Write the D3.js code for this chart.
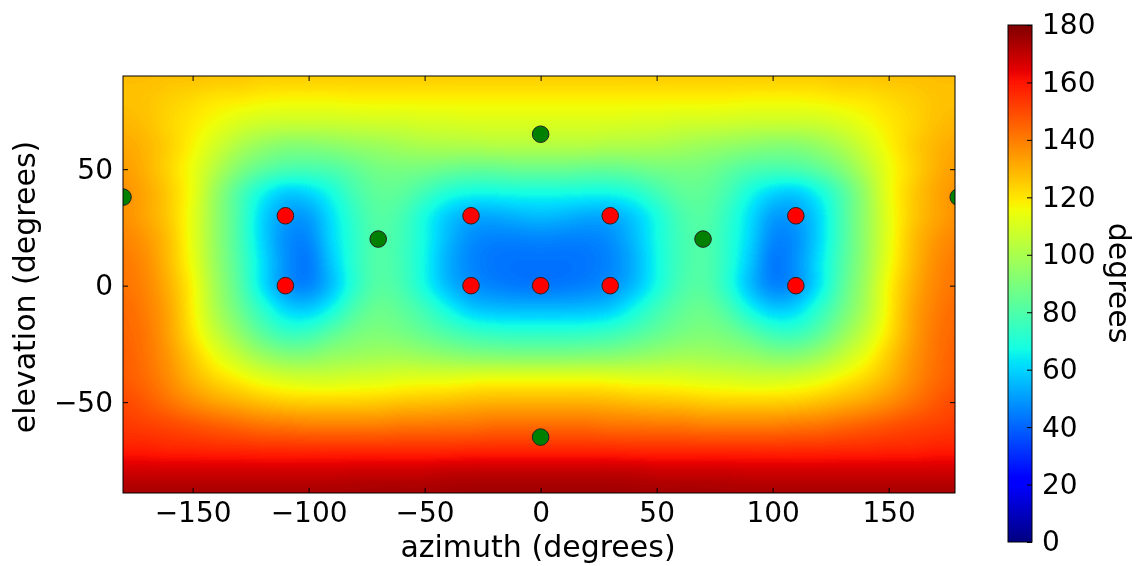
<!DOCTYPE html>
<html>
<head>
<meta charset="utf-8">
<script src="https://cdn.jsdelivr.net/npm/d3@7"></script>
<style>
body { margin: 0; background: #fff; }
#chart { position: relative; width: 1138px; height: 566px; }
#chart canvas, #chart svg { position: absolute; left: 0; top: 0; }
text { font-family: "DejaVu Sans", sans-serif; fill: #000; }
</style>
</head>
<body>
<div id="chart"></div>
<script>
'use strict';

// Grid positions of the field (degrees)
const gridAz = [-180,-170,-160,-150,-140,-130,-120,-110,-100,-90,-80,-70,-60,-50,-40,-30,-20,-10,
	0,10,20,30,40,50,60,70,80,90,100,110,120,130,140,150,160,170,180];
const gridEl = [90,80,70,60,50,40,30,20,10,0,-10,-20,-30,-40,-50,-60,-70,-80,-90];

// Field values, one row per elevation (top to bottom), in degrees
const fieldRows = [
	[128,128,127,127,126,126,125,125,125,125,125,125,125,125,125,125,125,125,125,125,125,125,125,125,125,125,125,125,125,125,125,126,126,127,127,128,128],
	[127,126,124,122,120,119,118,117,117,117,118,118,118,118,118,118,118,118,118,118,118,118,118,118,118,118,118,117,117,117,118,119,120,122,124,126,127],
	[129,127,123,119,115,111,108,107,107,107,108,109,109,110,110,111,111,111,111,111,111,111,110,110,109,109,108,107,107,107,108,111,115,119,123,127,129],
	[132,129,124,117,109,101,95,92,92,93,95,97,99,100,101,101,102,102,102,102,102,101,101,100,99,97,95,93,92,92,95,101,109,117,124,129,132],
	[134,130,123,114,102,91,83,79,78,80,84,88,89,88,86,85,85,86,86,86,85,85,86,88,89,88,84,80,78,79,83,91,102,114,123,130,134],
	[136,132,125,114,96,80,66,58,60,68,78,84,83,77,70,67,67,68,68,68,67,67,70,77,83,84,78,68,60,58,66,80,96,114,125,132,136],
	[136,132,125,113,95,78,60,50,50,62,74,82,78,68,58,52,52,54,56,54,52,52,58,68,78,82,74,62,50,50,60,78,95,113,125,132,136],
	[139,135,127,113,95,78,60,47,46,61,73,81,77,67,55,47,45,45,46,45,45,47,55,67,77,81,73,61,46,47,60,78,95,113,127,135,139],
	[141,137,128,114,96,80,62,48,43,58,73,81,77,66,53,46,43,42,42,42,43,46,53,66,77,81,73,58,43,48,62,80,96,114,128,137,141],
	[142,138,130,117,98,82,62,48,45,56,72,82,78,67,55,48,45,44,43,44,45,48,55,67,78,82,72,56,45,48,62,82,98,117,130,138,142],
	[144,140,132,118,100,86,72,60,58,66,80,86,83,76,66,58,56,55,55,55,56,58,66,76,83,86,80,66,58,60,72,86,100,118,132,140,144],
	[145,141,133,120,106,94,82,74,75,82,88,90,88,84,79,75,73,72,72,72,73,75,79,84,88,90,88,82,75,74,82,94,106,120,133,141,145],
	[146,142,135,125,114,105,97,92,92,95,97,98,98,96,94,92,91,90,90,90,91,92,94,96,98,98,97,95,92,92,97,105,114,125,135,142,146],
	[147,143,137,129,123,118,113,110,109,109,110,111,112,113,113,114,115,115,115,115,115,114,113,113,112,111,110,109,109,110,113,118,123,129,137,143,147],
	[150,147,142,137,133,130,127,125,124,124,124,125,126,127,128,129,130,130,130,130,130,129,128,127,126,125,124,124,124,125,127,130,133,137,142,147,150],
	[153,152,150,148,146,144,142,141,140,140,140,140,141,141,142,142,143,143,143,143,143,142,142,141,141,140,140,140,140,141,142,144,146,148,150,152,153],
	[158,158,157,157,156,156,155,155,155,155,155,155,155,155,155,156,156,156,156,156,156,156,155,155,155,155,155,155,155,155,155,156,156,157,157,158,158],
	[168,168,168,168,168,168,168,168,168,168,169,169,169,169,170,170,170,170,170,170,170,170,170,169,169,169,169,168,168,168,168,168,168,168,168,168,168],
	[174,174,174,174,174,174,174,174,174,174,174,175,175,175,175,176,176,176,176,176,176,176,175,175,175,175,174,174,174,174,174,174,174,174,174,174,174]
];

// Loudspeaker positions
const redAz = [-110, -110, -30, -30, 0, 30, 30, 110, 110];
const redEl = [30, 0, 30, 0, 0, 30, 0, 30, 0];
const greenAz = [0, 0, -70, 70, -180, 180];
const greenEl = [65, -65, 20, 20, 38, 38];

// Tick labels
const xTicks = [-150, -100, -50, 0, 50, 100, 150];
const yTicks = [-50, 0, 50];
const cbTicks = [0, 20, 40, 60, 80, 100, 120, 140, 160, 180];

const width = 1138, height = 566;
const plot = { left: 123, top: 76, right: 955, bottom: 493 };
const cbar = { left: 1008, right: 1032, top: 25, bottom: 542 };
const tickFont = "28px";
const labelFont = "30px";

const x = d3.scaleLinear().domain([-180, 178.6]).range([plot.left, plot.right]);
const y = d3.scaleLinear().domain([-89, 90]).range([plot.bottom, plot.top]);
const cb = d3.scaleLinear().domain([0, 180]).range([cbar.bottom, cbar.top]);
const norm = d3.scaleLinear().domain([0, 180]).range([0, 1]).clamp(true);

// matplotlib "jet" colormap
const jetR = d3.scaleLinear().domain([0, 0.35, 0.66, 0.89, 1]).range([0, 0, 1, 1, 0.5]).clamp(true);
const jetG = d3.scaleLinear().domain([0, 0.125, 0.375, 0.64, 0.91, 1]).range([0, 0, 1, 1, 0, 0]).clamp(true);
const jetB = d3.scaleLinear().domain([0, 0.11, 0.34, 0.65, 1]).range([0.5, 1, 1, 0, 0]).clamp(true);
function jet(t)
{
	return d3.rgb(Math.round(jetR(t) * 255), Math.round(jetG(t) * 255), Math.round(jetB(t) * 255));
}

const chart = d3.select("#chart");

// Heat map: grid values as grey levels, smoothly scaled by the canvas, then coloured.
const small = document.createElement("canvas");
small.width = gridAz.length;
small.height = gridEl.length;
const sctx = small.getContext("2d");
const simg = sctx.createImageData(small.width, small.height);
fieldRows.forEach(function(row, j) {
	row.forEach(function(v, i) {
		let g = Math.round(norm(v) * 255);
		let k = (j * small.width + i) * 4;
		simg.data[k] = g; simg.data[k + 1] = g; simg.data[k + 2] = g; simg.data[k + 3] = 255;
	});
});
sctx.putImageData(simg, 0, 0);

const pw = plot.right - plot.left, ph = plot.bottom - plot.top;
const canvas = chart.append("canvas")
	.attr("width", pw).attr("height", ph)
	.style("left", plot.left + "px").style("top", plot.top + "px");
const ctx = canvas.node().getContext("2d");
ctx.imageSmoothingEnabled = true;
ctx.imageSmoothingQuality = "high";
const halfAz = 5, halfEl = 5;
ctx.drawImage(small,
	x(gridAz[0] - halfAz) - plot.left, y(gridEl[0] + halfEl) - plot.top,
	x(gridAz[gridAz.length - 1] + halfAz) - x(gridAz[0] - halfAz),
	y(gridEl[gridEl.length - 1] - halfEl) - y(gridEl[0] + halfEl));
const lut = d3.range(256).map(function(g) { return jet(g / 255); });
const big = ctx.getImageData(0, 0, pw, ph);
for (let k = 0; k < big.data.length; k += 4)
{
	let c = lut[big.data[k]];
	big.data[k] = c.r; big.data[k + 1] = c.g; big.data[k + 2] = c.b; big.data[k + 3] = 255;
}
ctx.putImageData(big, 0, 0);

const svg = chart.append("svg").attr("width", width).attr("height", height);

svg.append("clipPath").attr("id", "plotclip")
	.append("rect")
	.attr("x", plot.left).attr("y", plot.top).attr("width", pw).attr("height", ph);

// Loudspeakers
const marks = svg.append("g").attr("clip-path", "url(#plotclip)");
marks.selectAll("circle.green")
	.data(greenAz.map(function(a, i) { return [a, greenEl[i]]; }))
	.enter().append("circle")
	.attr("class", "green")
	.attr("cx", function(d) { return x(d[0]); })
	.attr("cy", function(d) { return y(d[1]); })
	.attr("r", 8.3)
	.attr("fill", "#008000").attr("stroke", "#222").attr("stroke-width", 1);
marks.selectAll("circle.red")
	.data(redAz.map(function(a, i) { return [a, redEl[i]]; }))
	.enter().append("circle")
	.attr("class", "red")
	.attr("cx", function(d) { return x(d[0]); })
	.attr("cy", function(d) { return y(d[1]); })
	.attr("r", 8.3)
	.attr("fill", "#ff0000").attr("stroke", "#222").attr("stroke-width", 1);

// Axes frame and inward ticks on all four sides
const tickLen = 5;
svg.append("rect")
	.attr("x", plot.left).attr("y", plot.top).attr("width", pw).attr("height", ph)
	.attr("fill", "none").attr("stroke", "#000").attr("stroke-width", 1);

svg.append("g").attr("transform", "translate(0," + plot.bottom + ")")
	.call(d3.axisBottom(x).tickValues(xTicks).tickSizeInner(-tickLen).tickSizeOuter(0).tickPadding(9))
	.call(function(g) { g.select(".domain").remove(); });
svg.append("g").attr("transform", "translate(0," + plot.top + ")")
	.call(d3.axisTop(x).tickValues(xTicks).tickSizeInner(-tickLen).tickSizeOuter(0).tickFormat(""))
	.call(function(g) { g.select(".domain").remove(); });
svg.append("g").attr("transform", "translate(" + plot.left + ",0)")
	.call(d3.axisLeft(y).tickValues(yTicks).tickSizeInner(-tickLen).tickSizeOuter(0).tickPadding(10))
	.call(function(g) { g.select(".domain").remove(); });
svg.append("g").attr("transform", "translate(" + plot.right + ",0)")
	.call(d3.axisRight(y).tickValues(yTicks).tickSizeInner(-tickLen).tickSizeOuter(0).tickFormat(""))
	.call(function(g) { g.select(".domain").remove(); });

svg.selectAll(".tick text")
	.style("font-family", "\"DejaVu Sans\", sans-serif")
	.style("font-size", tickFont)
	.attr("fill", "#000");
svg.selectAll(".tick line").attr("stroke", "#000");

svg.append("text")
	.attr("x", 538).attr("y", 557)
	.attr("text-anchor", "middle")
	.style("font-size", labelFont)
	.text("azimuth (degrees)");
svg.append("text")
	.attr("transform", "translate(35,287) rotate(-90)")
	.attr("text-anchor", "middle")
	.style("font-size", labelFont)
	.text("elevation (degrees)");

// Colour bar
const grad = svg.append("defs").append("linearGradient")
	.attr("id", "jetgrad").attr("x1", 0).attr("y1", 1).attr("x2", 0).attr("y2", 0);
grad.selectAll("stop")
	.data(d3.range(129).map(function(i) { return i / 128; }))
	.enter().append("stop")
	.attr("offset", function(t) { return t; })
	.attr("stop-color", function(t) { return jet(t).formatHex(); });
svg.append("rect")
	.attr("x", cbar.left).attr("y", cbar.top)
	.attr("width", cbar.right - cbar.left).attr("height", cbar.bottom - cbar.top)
	.attr("fill", "url(#jetgrad)").attr("stroke", "#000").attr("stroke-width", 1);
svg.append("g").attr("transform", "translate(" + cbar.right + ",0)")
	.call(d3.axisRight(cb).tickValues(cbTicks).tickSizeInner(-tickLen).tickSizeOuter(0).tickPadding(10))
	.call(function(g) { g.select(".domain").remove(); })
	.call(function(g) {
		g.selectAll("text").style("font-family", "\"DejaVu Sans\", sans-serif").style("font-size", tickFont).attr("fill", "#000");
		g.selectAll("line").attr("stroke", "#000");
	});
svg.append("text")
	.attr("transform", "translate(1109,283) rotate(90)")
	.attr("text-anchor", "middle")
	.style("font-size", labelFont)
	.text("degrees");
</script>
</body>
</html>
